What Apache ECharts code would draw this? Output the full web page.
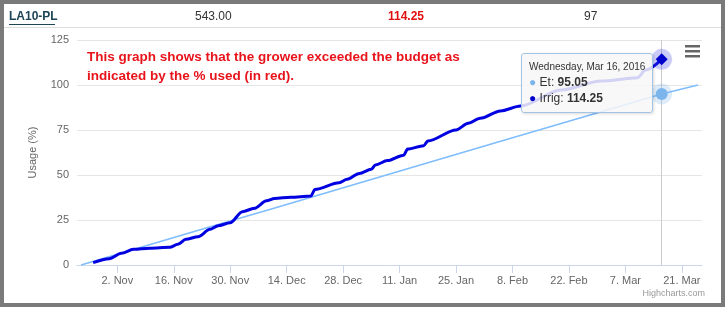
<!DOCTYPE html>
<html>
<head>
<meta charset="utf-8">
<script src="https://cdn.jsdelivr.net/npm/echarts@6/dist/echarts.min.js"></script>
<style>
  html, body { margin: 0; padding: 0; background: #fff; }
  #chart { width: 727px; height: 310px; }
</style>
</head>
<body>
<div id="chart"></div>
<script>
// Et (budget) line readings
const etDates = ['2015-10-24', '2015-11-24', '2015-12-10', '2016-02-04', '2016-03-16', '2016-03-25'];
const etValues = [0, 20.5, 31, 68, 95.05, 100];

// Irrig (actual usage) readings
const irrigDates = [
  '2015-10-27', '2015-10-31', '2015-11-03', '2015-11-06', '2015-11-10', '2015-11-15',
  '2015-11-17', '2015-11-19', '2015-11-22', '2015-11-25', '2015-11-27', '2015-11-30',
  '2015-12-03', '2015-12-06', '2015-12-09', '2015-12-11', '2015-12-15', '2015-12-20',
  '2015-12-21', '2015-12-27', '2015-12-29', '2016-01-01', '2016-01-04', '2016-01-05',
  '2016-01-08', '2016-01-12', '2016-01-13', '2016-01-17', '2016-01-18', '2016-01-25',
  '2016-01-28', '2016-01-31', '2016-02-05', '2016-02-10', '2016-02-20', '2016-03-01',
  '2016-03-10', '2016-03-12', '2016-03-16'
];
const irrigValues = [
  1.3, 3.5, 6.5, 8.7, 9.3, 9.8,
  11.5, 14.3, 15.7, 19.8, 21.8, 23.5,
  29.6, 31.5, 35.7, 37, 37.6, 38.3,
  42, 45.7, 47.6, 50.9, 53.2, 55.6,
  58, 61, 64.4, 66.3, 68.9, 75,
  78.7, 81.5, 85.6, 88.3, 97.2, 102.2,
  104, 108.3, 114.25
];

// x axis tick labels (every two weeks)
const tickDates = ['2015-11-02', '2015-11-16', '2015-11-30', '2015-12-14', '2015-12-28',
  '2016-01-11', '2016-01-25', '2016-02-08', '2016-02-22', '2016-03-07', '2016-03-21'];
const axisStart = '2015-10-23';
const axisEnd = '2016-03-26';

const header = { name: 'LA10-PL', budget: '543.00', used: '114.25', pct: '97' };
const note = ['This graph shows that the grower exceeded the budget as',
  'indicated by the % used (in red).'];

const months = ['Jan', 'Feb', 'Mar', 'Apr', 'May', 'Jun', 'Jul', 'Aug', 'Sep', 'Oct', 'Nov', 'Dec'];
const weekdays = ['Sunday', 'Monday', 'Tuesday', 'Wednesday', 'Thursday', 'Friday', 'Saturday'];

const ts = (s) => {
  const p = s.split('-').map(Number);
  return new Date(p[0], p[1] - 1, p[2]).getTime();
};

const FONT = '"Liberation Sans", Arial, sans-serif';
const tickTs = tickDates.map(ts);
const etData = etDates.map((d, i) => [ts(d), etValues[i]]);
const irrigData = irrigDates.map((d, i) => [ts(d), irrigValues[i]]);
const lastEt = etData[etDates.indexOf('2016-03-16')];
const lastIrrig = irrigData[irrigData.length - 1];

// halo + marker pair for the hovered point
const hoverMarks = (coord, symbol, size, color, halo) => ({
  silent: true,
  label: { show: false },
  emphasis: { disabled: true },
  itemStyle: { borderWidth: 0 },
  data: [
    { coord: coord, symbol: 'circle', symbolSize: 21, itemStyle: { color: halo, borderWidth: 0 } },
    { coord: coord, symbol: symbol, symbolSize: size, itemStyle: { color: color, borderWidth: 0 } }
  ]
});

const chart = echarts.init(document.getElementById('chart'));

chart.setOption({
  animation: false,
  backgroundColor: '#fff',
  grid: { left: 77, right: 25, top: 40, bottom: 45 },
  xAxis: {
    type: 'value',
    min: ts(axisStart),
    max: ts(axisEnd),
    axisLine: { lineStyle: { color: '#ccd6eb' } },
    axisTick: { show: true, length: 8, customValues: tickTs, lineStyle: { color: '#ccd6eb' } },
    axisLabel: {
      customValues: tickTs,
      color: '#666',
      fontSize: 11,
      fontFamily: FONT,
      margin: 10,
      formatter: (v) => {
        const d = new Date(v);
        return d.getDate() + '. ' + months[d.getMonth()];
      }
    },
    splitLine: { show: false }
  },
  yAxis: {
    type: 'value',
    min: 0,
    max: 125,
    interval: 25,
    name: 'Usage (%)',
    nameLocation: 'middle',
    nameGap: 39,
    nameTextStyle: { color: '#666', fontSize: 11, fontFamily: FONT },
    axisLine: { show: false },
    axisTick: { show: false },
    axisLabel: { color: '#666', fontSize: 11, fontFamily: FONT, margin: 8 },
    splitLine: { lineStyle: { color: '#e6e6e6' } }
  },
  tooltip: {
    trigger: 'axis',
    triggerOn: 'none',
    alwaysShowContent: true,
    transitionDuration: 0,
    backgroundColor: 'rgba(247,247,247,0.85)',
    borderColor: '#a3c4e4',
    borderWidth: 1,
    padding: [6, 7],
    extraCssText: 'border-radius:3px;box-shadow:1px 1px 3px rgba(0,0,0,0.15);',
    textStyle: { color: '#333', fontFamily: FONT },
    axisPointer: { type: 'line', z: 0, lineStyle: { color: '#ccc', width: 1, type: 'solid' }, label: { show: false } },
    position: () => {
      const px = chart.convertToPixel({ xAxisIndex: 0, yAxisIndex: 0 }, lastIrrig);
      return [px[0] - 141, 53];
    },
    formatter: (params) => {
      const d = new Date(params[0].value[0]);
      let html = '<div style="font-size:10px;line-height:14px">' + weekdays[d.getDay()] + ', ' +
        months[d.getMonth()] + ' ' + d.getDate() + ', ' + d.getFullYear() + '</div>';
      params.forEach((p) => {
        html += '<div style="font-size:12px;line-height:16px"><span style="color:' + p.color +
          '">\u25CF</span> ' + p.seriesName + ': <b>' + p.value[1].toFixed(2) + '</b></div>';
      });
      return html;
    }
  },
  series: [
    {
      name: 'Et',
      type: 'line',
      data: etData,
      symbol: 'none',
      color: '#7cb5ec',
      lineStyle: { width: 1.6, color: '#74ace6' },
      markPoint: hoverMarks(lastEt, 'circle', 12, '#7cb5ec', 'rgba(124,181,236,0.25)')
    },
    {
      name: 'Irrig',
      type: 'line',
      data: irrigData,
      symbol: 'none',
      smooth: 0.3,
      smoothMonotone: 'x',
      color: '#0000cc',
      lineStyle: { width: 3, color: '#0000cc' },
      markPoint: hoverMarks(lastIrrig, 'diamond', 12, '#0000cc', 'rgba(70,70,235,0.28)')
    }
  ],
  graphic: [
    // outer frame
    { type: 'rect', silent: true, shape: { x: 2, y: 2, width: 721, height: 303 },
      style: { fill: 'none', stroke: '#7a7a7a', lineWidth: 4 }, z: 100 },
    { type: 'line', silent: true, shape: { x1: 4, y1: 27.5, x2: 721, y2: 27.5 },
      style: { stroke: '#dddddd', lineWidth: 1 } },
    // header row
    { type: 'text', left: 9, top: 11, style: { text: header.name, fill: '#1d4457', font: 'bold 12px ' + FONT } },
    { type: 'line', shape: { x1: 9, y1: 24.5, x2: 55, y2: 24.5 }, style: { stroke: '#1d4457', lineWidth: 1 } },
    { type: 'text', left: 195, top: 11, style: { text: header.budget, fill: '#333', font: '12px ' + FONT } },
    { type: 'text', left: 388, top: 11, style: { text: header.used, fill: '#e01010', font: 'bold 12px ' + FONT } },
    { type: 'text', left: 584, top: 11, style: { text: header.pct, fill: '#333', font: '12px ' + FONT } },
    // annotation
    { type: 'text', left: 87, top: 48, style: { text: note.join('\n'), fill: '#e8141c',
      font: 'bold 13.5px ' + FONT, lineHeight: 19 } },
    // menu icon
    { type: 'rect', shape: { x: 685, y: 45, width: 15, height: 2.5 }, style: { fill: '#666' } },
    { type: 'rect', shape: { x: 685, y: 50, width: 15, height: 2.5 }, style: { fill: '#666' } },
    { type: 'rect', shape: { x: 685, y: 55, width: 15, height: 2.5 }, style: { fill: '#666' } },
    // credits
    { type: 'text', right: 22, top: 289, style: { text: 'Highcharts.com', fill: '#999', font: '9px ' + FONT } }
  ]
});

chart.dispatchAction({ type: 'showTip', seriesIndex: 1, dataIndex: irrigData.length - 1 });
</script>
</body>
</html>
